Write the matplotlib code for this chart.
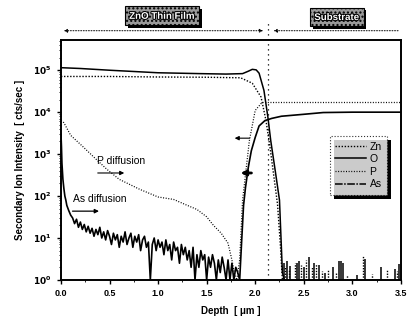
import matplotlib
matplotlib.use("Agg")
import matplotlib.pyplot as plt
import matplotlib.patheffects as pe
from matplotlib.lines import Line2D
from matplotlib.ticker import LogLocator, FixedLocator, NullFormatter

plt.rcParams['font.family'] = ['Liberation Sans', 'DejaVu Sans']

# ---------------- data ----------------
# O signal (solid)
o_depth = [0.0, 0.2, 0.5, 1.0, 1.43, 1.7, 1.87, 1.93, 1.97, 2.01, 2.04, 2.09,
           2.13, 2.16, 2.21, 2.25, 2.28, 2.30]
o_val = [1.15e5, 1.1e5, 1.0e5, 8.7e4, 8.3e4, 8.1e4, 8.3e4, 9.5e4, 1.05e5, 1.02e5,
         8.5e4, 3.3e4, 7800, 2100, 350, 80, 1.5, 1.0]

# Zn signal (dotted)
zn_depth = [0.0, 0.5, 1.0, 1.5, 1.85, 1.97, 2.06, 2.11, 2.15, 2.19, 2.23, 2.26, 2.28]
zn_val = [7.1e4, 7.1e4, 6.9e4, 6.8e4, 6.6e4, 4.9e4, 2.3e4, 6500, 1600, 320, 63, 6.3, 1.0]

# substrate noise spikes of O and Zn
o_spike_x = [2.30, 2.33, 2.36, 2.43, 2.45, 2.50, 2.55, 2.61, 2.66, 2.72, 2.80,
             2.86, 2.88, 2.90, 3.05, 3.13, 3.30, 3.44, 3.48]
o_spike_y = [2.5, 2.8, 2.2, 2.6, 2.9, 2.0, 3.6, 2.5, 2.3, 1.5, 2.0, 2.8, 2.8, 2.6,
             1.3, 3.2, 2.0, 1.8, 2.4]
zn_spike_x = [2.31, 2.35, 2.41, 2.47, 2.52, 2.58, 2.63, 2.69, 2.75, 2.83, 2.95,
              3.11, 3.20, 3.36, 3.46]
zn_spike_y = [2.2, 1.8, 2.5, 2.3, 3.0, 2.0, 2.4, 1.6, 1.7, 1.5, 1.3, 3.8, 1.4, 1.8, 1.6]

# P signal (fine dotted)
p_depth = [0.0, 0.03, 0.1, 0.22, 0.35, 0.47, 0.6, 0.81, 1.0, 1.16, 1.3, 1.4, 1.5,
           1.57, 1.65, 1.72, 1.76, 1.79, 1.81, 1.84, 1.87, 1.94, 2.0, 2.07, 2.15,
           2.5, 3.0, 3.5]
p_val = [6300, 5600, 2800, 1550, 800, 440, 250, 145, 95, 83, 60, 48, 32, 20, 13,
         7.5, 3, 1.3, 1.0, 3, 80, 2100, 11000, 17000, 17000, 17000, 17000, 17000]

# As signal (solid, noisy)
as_depth = [0.0, 0.005, 0.01, 0.02, 0.03, 0.04, 0.05, 0.06, 0.08, 0.10,
            0.12, 0.14, 0.16, 0.18, 0.20, 0.22, 0.24, 0.26, 0.28, 0.30,
            0.32, 0.34, 0.36, 0.38, 0.40, 0.42, 0.44, 0.46, 0.48, 0.50,
            0.52, 0.54, 0.56, 0.58, 0.60, 0.62, 0.64, 0.66, 0.68, 0.70,
            0.72, 0.74, 0.76, 0.78, 0.80, 0.82, 0.84, 0.86, 0.88, 0.90,
            0.92, 0.94, 0.96, 0.98, 1.00, 1.02, 1.04, 1.06, 1.08, 1.10,
            1.12, 1.14, 1.16, 1.18, 1.20, 1.22, 1.24, 1.26, 1.28, 1.30,
            1.32, 1.34, 1.36, 1.38, 1.40, 1.42, 1.44, 1.46, 1.48, 1.50,
            1.52, 1.54, 1.56, 1.58, 1.60, 1.62, 1.64, 1.66, 1.68, 1.70,
            1.72, 1.74, 1.76, 1.78, 1.80, 1.82, 1.84,
            1.86, 1.88, 1.90, 1.93, 1.96, 2.00, 2.04, 2.10, 2.17, 2.27,
            2.50, 2.70, 3.00, 3.50]
as_val = [3000, 1500, 600, 250, 150, 100, 80, 60, 45, 35,
          30, 22, 28, 18, 24, 16, 21, 14, 19, 13,
          17, 11, 16, 12, 18, 10, 14, 9, 15, 11,
          7, 13, 9, 12, 6, 11, 8, 14, 7, 10,
          13, 6, 11, 8, 12, 5, 9, 11, 6, 8,
          1, 7, 10, 5, 9, 6, 8, 4, 9, 5,
          7, 3, 8, 5, 6, 2.5, 7, 4, 6, 3,
          5, 2, 6, 1, 4, 2, 5, 3, 4, 1,
          3.5, 2, 4, 2.5, 1, 3, 1.5, 3.5, 2, 1,
          3, 1, 2.5, 1, 2, 1.5, 1,
          8, 60, 160, 500, 1200, 2500, 4700, 6300, 7100, 8000,
          8900, 9800, 10000, 10000]

x_ticks = [0.0, 0.5, 1.0, 1.5, 2.0, 2.5, 3.0, 3.5]
x_tick_labels = ['0.0', '0.5', '1.0', '1.5', '2.0', '2.5', '3.0', '3.5']
y_ticks = [1, 10, 100, 1000, 10000, 100000]
y_tick_labels = [r'$\mathbf{10^{0}}$', r'$\mathbf{10^{1}}$', r'$\mathbf{10^{2}}$',
                 r'$\mathbf{10^{3}}$', r'$\mathbf{10^{4}}$', r'$\mathbf{10^{5}}$']
interface_depth = 2.13

# ---------------- figure ----------------
fig = plt.figure(figsize=(4.12, 3.24), dpi=100)
ax = fig.add_axes([0.148, 0.136, 0.825, 0.741])

ax.plot(zn_depth, zn_val, color='black', lw=1.0, ls=(0, (1, 1.2)))
ax.plot(o_depth, o_val, color='black', lw=1.1, ls='-')
ax.plot(p_depth, p_val, color='black', lw=0.9, ls=(0, (0.8, 1.3)))
ax.plot(as_depth, as_val, color='black', lw=1.2, ls='-')
ax.vlines(o_spike_x, 1, o_spike_y, color='black', lw=1.1)
ax.vlines(zn_spike_x, 1, zn_spike_y, color='black', lw=1.0, linestyles=(0, (1, 1)))

ax.set_yscale('log')
ax.set_xlim(0, 3.5)
ax.set_ylim(1, 5.3e5)

ax.xaxis.set_major_locator(FixedLocator(x_ticks))
ax.set_xticklabels(x_tick_labels)
ax.xaxis.set_minor_locator(FixedLocator([0.25, 0.75, 1.25, 1.75, 2.25, 2.75, 3.25]))
ax.yaxis.set_major_locator(FixedLocator(y_ticks))
ax.set_yticklabels(y_tick_labels)
ax.yaxis.set_minor_locator(LogLocator(base=10, subs=range(2, 10)))
ax.yaxis.set_minor_formatter(NullFormatter())

ax.tick_params(axis='both', which='major', labelsize=6.5, length=3, width=1, direction='out')
ax.tick_params(axis='both', which='minor', length=1.5, width=0.6, direction='out')
for lab in ax.get_xticklabels():
    lab.set_fontweight('bold')
for sp in ax.spines.values():
    sp.set_linewidth(1.4)

ax.set_xlabel('Depth  [ \u03bcm ]', fontsize=7, fontweight='bold', labelpad=6)
ax.set_ylabel('Secondary Ion Intensity  [ cts/sec ]', fontsize=7, fontweight='bold', labelpad=6)

# annotations inside the axes
ax.text(0.37, 10**2.83, 'P diffusion', fontsize=7.5, va='center', ha='left')
ax.annotate('', xy=(0.68, 10**2.55), xytext=(0.35, 10**2.55),
            arrowprops=dict(arrowstyle='-|>', lw=0.8, color='black', mutation_scale=6))
ax.text(0.12, 10**1.93, 'As diffusion', fontsize=7.5, va='center', ha='left')
ax.annotate('', xy=(0.42, 10**1.64), xytext=(0.09, 10**1.64),
            arrowprops=dict(arrowstyle='-|>', lw=0.9, color='black', mutation_scale=6))
ax.annotate('', xy=(1.76, 10**3.38), xytext=(1.97, 10**3.38),
            arrowprops=dict(arrowstyle='-|>', lw=0.8, color='black', mutation_scale=6))
ax.annotate('', xy=(1.82, 10**2.55), xytext=(1.99, 10**2.55),
            arrowprops=dict(arrowstyle='-|>,head_length=0.5,head_width=0.25', lw=2.0,
                            color='black', mutation_scale=6))

# interface line and region arrows
trans = ax.get_xaxis_transform()
ax.plot([interface_depth, interface_depth], [0, 1.07], transform=trans, color='black',
        lw=0.9, ls=(0, (1, 3)), clip_on=False)
ax.annotate('', xy=(0.0, 1.038), xytext=(interface_depth - 0.02, 1.038), xycoords=trans,
            textcoords=trans,
            arrowprops=dict(arrowstyle='<|-|>', lw=0.7, ls=':', color='black', mutation_scale=5))
ax.annotate('', xy=(interface_depth + 0.03, 1.038), xytext=(3.5, 1.038), xycoords=trans,
            textcoords=trans,
            arrowprops=dict(arrowstyle='-|>', lw=0.7, ls=':', color='black', mutation_scale=5))

shadow = [pe.withSimplePatchShadow(offset=(2, -2), shadow_rgbFace='black', alpha=1.0)]
for label, xc, yc in [('ZnO Thin Film', 1.04, 1.10), ('Substrate', 2.84, 1.095)]:
    t = ax.text(xc, yc, label, transform=trans, ha='center', va='center', fontsize=7,
                fontweight='bold', color='white',
                bbox=dict(boxstyle='square,pad=0.45', facecolor='#9a9a9a',
                          edgecolor='black', lw=0.8, hatch='....'),
                path_effects=[pe.withStroke(linewidth=1.5, foreground='black')])
    t.get_bbox_patch().set_path_effects(shadow)

# legend
handles = [Line2D([], [], color='black', lw=1.0, ls=(0, (1, 1.2))),
           Line2D([], [], color='black', lw=1.1, ls='-'),
           Line2D([], [], color='black', lw=0.9, ls=(0, (0.8, 1.3))),
           Line2D([], [], color='black', lw=1.1, ls=(0, (5, 1, 1, 1)))]
leg = ax.legend(handles, ['Zn', 'O', 'P', 'As'], loc='upper left',
                bbox_to_anchor=(0.776, 0.62), fontsize=7.5, handlelength=3.0,
                handletextpad=0.3, labelspacing=0.25, borderpad=0.5,
                frameon=True, fancybox=False, shadow=False)
fr = leg.get_frame()
fr.set_edgecolor('black')
fr.set_linestyle(':')
fr.set_linewidth(0.8)
fr.set_path_effects([pe.withSimplePatchShadow(offset=(3, -3), shadow_rgbFace='black', alpha=1.0)])

fig.savefig('out.png', dpi=100)
